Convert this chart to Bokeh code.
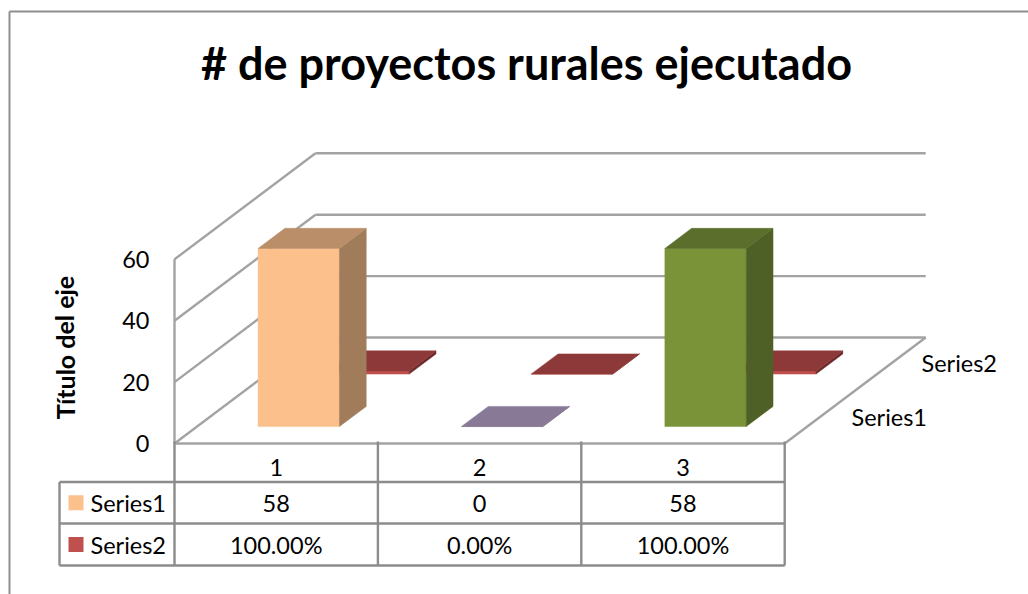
from bokeh.plotting import figure
from bokeh.models import Range1d
from bokeh.core.properties import value
from bokeh.embed import file_html
from bokeh.resources import INLINE

title_text = "# de proyectos rurales ejecutado"
axis_title = "Título del eje"
categories = ["1", "2", "3"]
series_names = ["Series1", "Series2"]
series1 = [58, 0, 58]
series2 = [1.0, 0.0, 1.0]
value_ticks = [0, 20, 40, 60]
series1_colors = [("#FBC08C", "#A07C5A", "#B98E68"),
                  ("#887A96", "#6A5E75", "#887A96"),
                  ("#7A9339", "#4F6026", "#5B6E2B")]
series2_colors = [("#C0504D", "#6E2A2A", "#8E3939")] * 3
legend_colors = ["#FBC08C", "#C0504D"]

FONT = value("Lato")
GRID = "#A3A3A3"
TABLE = "#8C8C8C"

# projection of (category position, depth, value) onto the picture
X0, Y0 = 174.0, 443.0      # front-left floor corner
CAT_W = 203.4
DX, DY = 141.0, -106.0     # shift from the front to the back of the floor
PER_UNIT = 3.07


def proj(c, d, v):
    return X0 + c * CAT_W + d * DX, Y0 + d * DY - v * PER_UNIT


p = figure(width=1028, height=594, output_backend="svg", toolbar_location=None,
           x_range=Range1d(0, 1028), y_range=Range1d(594, 0), min_border=0,
           outline_line_color=None, background_fill_color="white")
p.axis.visible = False
p.grid.visible = False


def seg(a, b, color=GRID, w=2.4):
    p.line([a[0], b[0]], [a[1], b[1]], line_color=color, line_width=w)


def label(x, y, s, size="23.5px", align="center", style="normal", angle=0):
    p.text([x], [y], text=[s], text_font=FONT, text_font_size=size, text_align=align,
           text_baseline="middle", text_color="black", text_font_style=style, angle=angle)


# chart frame
seg((9, 594), (9, 11), "#8E8E8E", 2)
seg((9, 11), (1028, 11), "#8E8E8E", 2)

label(526, 62, title_text, "45px", style="bold")
label(64, 347, axis_title, "25px", style="bold", angle=1.5708)

# walls and floor
for t in value_ticks:
    seg(proj(0, 0, t), proj(0, 1, t))
    seg(proj(0, 1, t), proj(3, 1, t))
    label(149, proj(0, 0, t)[1], str(t), align="right")
seg(proj(0, 0, 0), proj(0, 0, max(value_ticks)))
seg(proj(0, 0, 0), proj(3, 0, 0))
seg(proj(3, 0, 0), proj(3, 1, 0))


def bar(c, depth_center, v, colors):
    hw, hd = 0.2, 0.095
    x0, x1 = c + 0.5 - hw, c + 0.5 + hw
    d0, d1 = depth_center - hd, depth_center + hd
    faces = [
        ([(x0, d0, 0), (x1, d0, 0), (x1, d0, v), (x0, d0, v)], colors[0]),
        ([(x1, d0, 0), (x1, d1, 0), (x1, d1, v), (x1, d0, v)], colors[1]),
        ([(x0, d0, v), (x1, d0, v), (x1, d1, v), (x0, d1, v)], colors[2]),
    ]
    for pts, col in faces:
        xy = [proj(*q) for q in pts]
        p.patch([a[0] for a in xy], [a[1] for a in xy], fill_color=col, line_color=col, line_width=0.5)


for i, v in enumerate(series2):
    bar(i, 0.75, v, series2_colors[i])
for i, v in enumerate(series1):
    bar(i, 0.255, v, series1_colors[i])

# depth-axis labels
label(921, 362, series_names[1], align="left")
label(851, 416, series_names[0], align="left")

# data table
rows_y = [481.5, 523, 565]
col_x = [X0 + i * CAT_W for i in range(len(categories) + 1)]
for yy in rows_y:
    seg((59, yy), (col_x[-1], yy), TABLE)
seg((59, rows_y[0]), (59, rows_y[-1]), TABLE)
for xx in col_x:
    seg((xx, Y0 - 2), (xx, rows_y[-1]), TABLE)

row_text = [[str(v) for v in series1], [f"{v * 100:.2f}%" for v in series2]]
for i, c in enumerate(categories):
    cx = (col_x[i] + col_x[i + 1]) / 2
    label(cx, 467, c)
    label(cx, 503, row_text[0][i])
    label(cx, 544, row_text[1][i])
for j, name in enumerate(series_names):
    cy = (rows_y[j] + rows_y[j + 1]) / 2
    p.quad(left=[68], right=[83], top=[cy - 7.5], bottom=[cy + 7.5], fill_color=legend_colors[j], line_color=None)
    label(90, cy, name, align="left")

open("out.html", "w").write(file_html(p, INLINE))
